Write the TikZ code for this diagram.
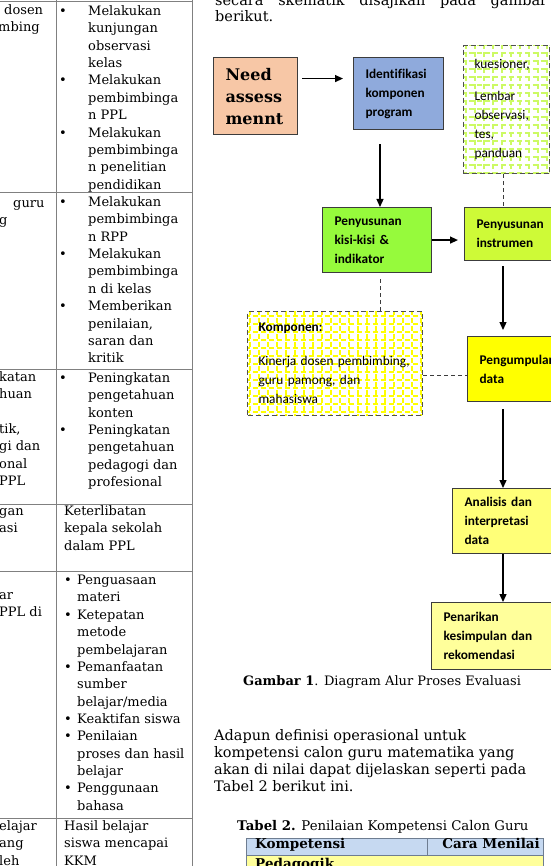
\documentclass[tikz,border=0pt]{standalone}
\usepackage{fontspec}
\setmainfont{DejaVu Serif}
\newfontfamily\calibri[Ligatures=NoCommon]{Carlito}
\usetikzlibrary{arrows.meta}

\definecolor{rule}{RGB}{128,128,128}
\definecolor{edge}{RGB}{60,60,60}
\definecolor{peach}{RGB}{247,199,166}
\definecolor{steel}{RGB}{143,170,220}
\definecolor{lime}{RGB}{150,250,60}
\definecolor{chartreuse}{RGB}{206,250,55}
\definecolor{gridgreen}{RGB}{204,250,100}
\definecolor{gridyellow}{RGB}{255,255,0}
\definecolor{paleyellow}{RGB}{255,255,120}
\definecolor{creamyellow}{RGB}{255,255,155}
\definecolor{headblue}{RGB}{198,217,241}
\definecolor{headedge}{RGB}{110,125,145}

% one cell of the table = one top-aligned tabular
\newcommand\cellrows[1]{\begin{tabular}[t]{@{}l@{}}#1\end{tabular}}
\newcommand\bulrows[2]{\begin{tabular}[t]{@{}p{#1}@{}l@{}}#2\end{tabular}}

\tikzset{
  cell/.style={anchor=mid west, inner sep=0pt, font=\fontsize{13}{17.35}\selectfont},
  para/.style={cell, font=\fontsize{14.5}{17}\selectfont},
  flowbox/.style={draw=edge, line width=1.1pt, anchor=north west, inner xsep=12pt,
    inner ysep=0pt, align=left, font=\calibri\bfseries\fontsize{13.3}{19}\selectfont},
  gridbox/.style={flowbox, draw=edge!90, dash pattern=on 5pt off 3pt, inner xsep=11pt,
    font=\calibri\fontsize{13.3}{19}\selectfont,
    path picture={\draw[#1, line width=2pt, xstep=9pt, ystep=8pt]
      ([shift={(-3pt,-3pt)}]path picture bounding box.south west) grid
      ([shift={(3pt,3pt)}]path picture bounding box.north east);}},
  arr/.style={-{Triangle[length=8pt,width=7pt]}, line width=1.3pt},
  dashlink/.style={draw=edge, line width=1pt, dash pattern=on 4pt off 3pt},
}

\begin{document}
\begin{tikzpicture}[x=1pt,y=-1pt]
\useasboundingbox (0,0) rectangle (550,866);

% table on the left
\draw[rule, line width=1pt] (0,2) -- (192,2) (0,193) -- (192,193) (0,369) -- (192,369)
  (0,504) -- (192,504) (0,571) -- (192,571) (0,818) -- (192,818);
\draw[rule, line width=1pt] (56,0) -- (56,866) (192,0) -- (192,866);

\node[cell] (a1) at (4,12) {dosen};
\node[cell] (a2) at (-2,29) {mbing};
\node[cell] (b1) at (13,205) {guru};
\node[cell] (b2) at (-1,222) {g};
\node[cell] (d1) at (-1,379) {\cellrows{katan\\huan\\ \\tik,\\gi dan\\onal\\ PPL}};
\node[cell] (e1) at (-1,513) {\cellrows{gan\\asi}};
\node[cell] (f1) at (-1,597) {\cellrows{ar\\ PPL di}};
\node[cell] (g1) at (-1,828) {\cellrows{elajar\\ang\\leh}};

\node[cell] (a3) at (59,13) {\bulrows{29pt}{\textbullet & Melakukan\\ & kunjungan\\ & observasi\\ & kelas\\
  \textbullet & Melakukan\\ & pembimbinga\\ & n PPL\\ \textbullet & Melakukan\\ & pembimbinga\\
  & n penelitian\\ & pendidikan}};
\node[cell] (b3) at (59,204) {\bulrows{29pt}{\textbullet & Melakukan\\ & pembimbinga\\ & n RPP\\
  \textbullet & Melakukan\\ & pembimbinga\\ & n di kelas\\ \textbullet & Memberikan\\ & penilaian,\\
  & saran dan\\ & kritik}};
\node[cell] (d3) at (59,380) {\bulrows{29pt}{\textbullet & Peningkatan\\ & pengetahuan\\ & konten\\
  \textbullet & Peningkatan\\ & pengetahuan\\ & pedagogi dan\\ & profesional}};
\node[cell] (e3) at (64,513) {\cellrows{Keterlibatan\\kepala sekolah\\dalam PPL}};
\node[cell] (f3) at (64,582) {\bulrows{13pt}{\textbullet & Penguasaan\\ & materi\\ \textbullet & Ketepatan\\
  & metode\\ & pembelajaran\\ \textbullet & Pemanfaatan\\ & sumber\\ & belajar/media\\
  \textbullet & Keaktifan siswa\\ \textbullet & Penilaian\\ & proses dan hasil\\ & belajar\\
  \textbullet & Penggunaan\\ & bahasa}};
\node[cell] (g3) at (64,828) {\cellrows{Hasil belajar\\siswa mencapai\\KKM}};

% text above the diagram
\node[para] (txt1) at (215,3) {\makebox[332pt][s]{secara skematik disajikan pada gambar}};
\node[para] (txt2) at (215,19) {berikut.};

% flow diagram
\node[flowbox, fill=peach, text width=60pt, minimum height=77pt,
  font=\bfseries\fontsize{16}{22}\selectfont] (need) at (213,57) {Need\\assess\\mennt};
\node[flowbox, fill=steel, text width=66pt, minimum height=72pt] (ident) at (353,57)
  {Identifikasi\\komponen\\program};
\node[gridbox=gridgreen, text width=64pt, minimum height=128pt] (kues) at (463,45)
  {kuesioner,\\[13pt]Lembar\\observasi,\\tes,\\panduan};
\node[flowbox, fill=lime, text width=85pt, minimum height=65pt] (kisi) at (322,207)
  {Penyusunan\\kisi-kisi \&\\indikator};
\node[flowbox, fill=chartreuse, text width=66pt, minimum height=53pt] (instr) at (464,207)
  {Penyusunan\\instrumen};
\node[gridbox=gridyellow, text width=153pt, minimum height=104pt] (komp) at (247,311)
  {\textbf{Komponen:}\\[15pt]Kinerja dosen pembimbing,\\guru pamong, dan\\mahasiswa};
\node[flowbox, fill=gridyellow, text width=70pt, minimum height=65pt] (pengum) at (467,336)
  {Pengumpulan\\data};
\node[flowbox, fill=paleyellow, text width=81pt, minimum height=65pt] (anal) at (452,488)
  {Analisis dan\\interpretasi\\data};
\node[flowbox, fill=creamyellow, text width=101pt, minimum height=67pt] (penar) at (431,602)
  {Penarikan\\kesimpulan dan\\rekomendasi};

\coordinate (colA) at (380,0);
\coordinate (colB) at (503,0);
\coordinate (rowC) at (0,375);

\draw[arr, shorten <=4pt, shorten >=10pt] ([yshift=17.5pt]need.east) -- ([yshift=17.5pt]need.east -| ident.west);
\draw[arr, shorten <=14pt] (ident.south -| colA) -- (kisi.north -| colA);
\draw[arr, shorten >=6pt] (kisi.east) -- (kisi.east -| instr.west);
\draw[dashlink] (kues.south -| colB) -- (instr.north -| colB);
\draw[dashlink, shorten <=6pt] (kisi.south -| colA) -- (komp.north -| colA);
\draw[arr, shorten <=5pt, shorten >=6pt] (instr.south -| colB) -- (pengum.north -| colB);
\draw[dashlink] (komp.east |- rowC) -- (pengum.west |- rowC);
\draw[arr, shorten <=7pt] (pengum.south -| colB) -- (anal.north -| colB);
\draw[arr] (anal.south -| colB) -- (penar.north -| colB);

\node[cell] (cap) at (243,683) {\textbf{Gambar 1}. Diagram Alur Proses Evaluasi};

% text below the diagram
\node[para] (par) at (214,738) {\cellrows{Adapun definisi operasional untuk\\kompetensi calon guru matematika yang\\
  akan di nilai dapat dijelaskan seperti pada\\Tabel 2 berikut ini.}};
\node[cell, font=\fontsize{13.3}{17}\selectfont] (tabcap) at (237,828) {\textbf{Tabel 2.} Penilaian Kompetensi Calon Guru};

% start of table 2
\draw[headedge, fill=creamyellow, line width=1pt] (246,855) rectangle (543,880);
\draw[headedge, fill=headblue, line width=1pt] (246,838) rectangle (543,855);
\draw[headedge, line width=1pt] (427,838) -- (427,855);
\node[cell, font=\bfseries\fontsize{13.5}{17}\selectfont] (komph) at (255,846) {Kompetensi};
\node[cell, anchor=mid east, font=\bfseries\fontsize{13.5}{17}\selectfont] (carah) at (540,846) {Cara Menilai};
\node[cell, font=\bfseries\fontsize{13.5}{17}\selectfont] (pedag) at (255,866) {Pedagogik};
\end{tikzpicture}
\end{document}
